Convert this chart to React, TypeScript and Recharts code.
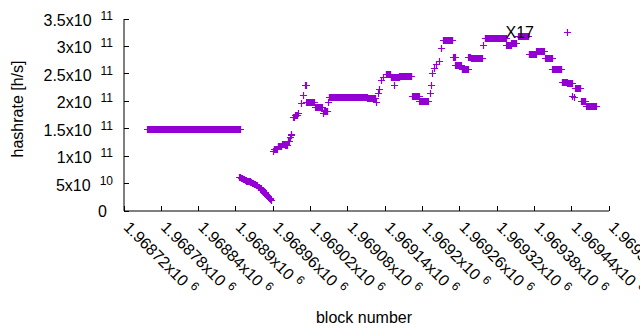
import React from 'react';
import { ScatterChart, Scatter, XAxis, YAxis } from 'recharts';

// x axis: block numbers, one tick every 60 blocks
const xTicks = [
  1968720, 1968780, 1968840, 1968900, 1968960, 1969020, 1969080,
  1969140, 1969200, 1969260, 1969320, 1969380, 1969440, 1969500,
];
const xTickMantissas = [
  '1.96872', '1.96878', '1.96884', '1.9689', '1.96896', '1.96902', '1.96908',
  '1.96914', '1.9692', '1.96926', '1.96932', '1.96938', '1.96944', '1.9695',
];
const xTickExponent = '6';

// y axis: hashrate in h/s
const yTicks = [0, 5e10, 1e11, 1.5e11, 2e11, 2.5e11, 3e11, 3.5e11];
const yTickMantissas = ['0', '5', '1', '1.5', '2', '2.5', '3', '3.5'];
const yTickExponents = ['', '10', '11', '11', '11', '11', '11', '11'];

// runs of consecutive blocks that share the same hashrate estimate
const runFirstBlock = [
  1968757, 1968905, 1968908, 1968911, 1968914, 1968917, 1968920, 1968923, 1968926, 1968929,
  1968932, 1968935, 1968938, 1968941, 1968944, 1968947, 1968950, 1968953, 1968955, 1968957,
  1968960, 1968961, 1968967, 1968974, 1968979, 1968983, 1968987, 1968988, 1968989, 1968992,
  1968995, 1969000, 1969005, 1969008, 1969011, 1969013, 1969027, 1969040, 1969041, 1969048,
  1969049, 1969111, 1969126, 1969128, 1969130, 1969134, 1969137, 1969141, 1969149, 1969154,
  1969163, 1969183, 1969195, 1969212, 1969214, 1969216, 1969219, 1969222, 1969227, 1969230,
  1969233, 1969249, 1969253, 1969263, 1969274, 1969278, 1969297, 1969300, 1969335, 1969343,
  1969354, 1969371, 1969383, 1969397, 1969409, 1969424, 1969432, 1969433, 1969441, 1969443,
  1969446, 1969455, 1969463, 1969471,
];
const runLastBlock = [
  1968907, 1968907, 1968910, 1968913, 1968916, 1968919, 1968922, 1968925, 1968928, 1968931,
  1968934, 1968937, 1968940, 1968943, 1968946, 1968949, 1968952, 1968954, 1968955, 1968957,
  1968960, 1968966, 1968973, 1968978, 1968982, 1968985, 1968987, 1968988, 1968989, 1968993,
  1968999, 1969000, 1969005, 1969008, 1969012, 1969025, 1969038, 1969040, 1969047, 1969048,
  1969110, 1969124, 1969126, 1969128, 1969130, 1969134, 1969137, 1969148, 1969162, 1969154,
  1969182, 1969194, 1969209, 1969212, 1969214, 1969216, 1969219, 1969222, 1969227, 1969230,
  1969248, 1969252, 1969262, 1969273, 1969276, 1969295, 1969297, 1969334, 1969342, 1969351,
  1969370, 1969382, 1969395, 1969408, 1969423, 1969432, 1969432, 1969441, 1969441, 1969443,
  1969454, 1969462, 1969470, 1969479,
];
const runHashrate = [
  1.5e11, 6.2e10, 6.0e10, 5.85e10, 5.7e10, 5.55e10, 5.4e10, 5.25e10, 5.05e10, 4.9e10,
  4.7e10, 4.45e10, 4.15e10, 3.85e10, 3.5e10, 3.15e10, 2.8e10, 2.45e10, 2.2e10, 2.0e10,
  1.1e11, 1.13e11, 1.18e11, 1.23e11, 1.21e11, 1.28e11, 1.34e11, 1.38e11, 1.41e11, 1.72e11,
  1.75e11, 1.79e11, 1.96e11, 2.11e11, 2.3e11, 1.98e11, 1.89e11, 1.78e11, 1.83e11, 1.98e11,
  2.08e11, 2.06e11, 1.98e11, 2.15e11, 2.22e11, 2.39e11, 2.45e11, 2.49e11, 2.44e11, 2.3e11,
  2.46e11, 2.09e11, 2.01e11, 2.15e11, 2.3e11, 2.51e11, 2.61e11, 2.68e11, 2.74e11, 2.98e11,
  3.12e11, 2.8e11, 2.66e11, 2.59e11, 2.8e11, 2.78e11, 3.03e11, 3.16e11, 3.02e11, 3.06e11,
  3.19e11, 2.87e11, 2.91e11, 2.78e11, 2.58e11, 2.36e11, 3.26e11, 2.34e11, 2.1e11, 2.07e11,
  2.25e11, 2.01e11, 1.91e11, 1.92e11,
];

const points: { block: number; hashrate: number }[] = [];
runFirstBlock.forEach((first, i) => {
  for (let b = first; b <= runLastBlock[i]; b++) {
    points.push({ block: b, hashrate: runHashrate[i] });
  }
});

const FONT = '"Liberation Sans", Arial, sans-serif';
const PURPLE = '#9400d3';

const PlusMark = (props: any) => {
  const { cx, cy } = props;
  if (cx == null || cy == null) return null;
  const x = Math.round(cx) + 0.5;
  const y = Math.round(cy) + 0.5;
  return (
    <path
      d={`M${x - 3.5},${y}H${x + 3.5}M${x},${y - 3.5}V${y + 3.5}`}
      stroke={PURPLE}
      strokeWidth={1.2}
      fill="none"
    />
  );
};

const BottomTick = (props: any) => {
  const { x, y, payload } = props;
  const i = xTicks.indexOf(payload.value);
  const ax = x + 3;
  const ay = y + 13;
  return (
    <g>
      <line x1={x} y1={y} x2={x} y2={y - 5} stroke="#000" shapeRendering="crispEdges" />
      <text
        x={0}
        y={6}
        transform={`translate(${ax},${ay}) rotate(45)`}
        fontSize={16}
        fontFamily={FONT}
        fill="#000"
      >
        {xTickMantissas[i]}x10
        <tspan dx={5} dy={-6} fontSize={12}>{xTickExponent}</tspan>
      </text>
    </g>
  );
};

const TopTick = (props: any) => {
  const { x, y } = props;
  return <line x1={x} y1={y} x2={x} y2={y + 5} stroke="#000" shapeRendering="crispEdges" />;
};

const LeftTick = (props: any) => {
  const { x, y, payload } = props;
  const i = yTicks.indexOf(payload.value);
  const exp = yTickExponents[i];
  return (
    <g>
      <line x1={x} y1={y} x2={x + 5} y2={y} stroke="#000" shapeRendering="crispEdges" />
      {exp ? (
        <text x={x - 11} y={y + 7} textAnchor="end" fontSize={16} fontFamily={FONT} fill="#000">
          {yTickMantissas[i]}x10
          <tspan dx={9} dy={-6} fontSize={12}>{exp}</tspan>
        </text>
      ) : (
        <text x={x - 17} y={y + 6} textAnchor="end" fontSize={16} fontFamily={FONT} fill="#000">
          {yTickMantissas[i]}
        </text>
      )}
    </g>
  );
};

const RightTick = (props: any) => {
  const { x, y } = props;
  return <line x1={x} y1={y} x2={x - 5} y2={y} stroke="#000" shapeRendering="crispEdges" />;
};

const xDomain: [number, number] = [1968720, 1969500];
const yDomain: [number, number] = [0, 3.5e11];

export default function App() {
  return (
    <div
      style={{
        position: 'fixed',
        left: 0,
        top: 0,
        width: 640,
        height: 330,
        overflow: 'hidden',
        background: '#fff',
      }}
    >
      <ScatterChart width={640} height={330} margin={{ top: 19, right: 31, bottom: 0, left: 0 }}>
        <XAxis
          xAxisId={0}
          dataKey="block"
          type="number"
          domain={xDomain}
          ticks={xTicks}
          interval={0}
          allowDataOverflow
          height={119}
          tickSize={0}
          tickMargin={0}
          tickLine={false}
          axisLine={{ stroke: '#000' }}
          tick={<BottomTick />}
        />
        <XAxis
          xAxisId="top"
          orientation="top"
          type="number"
          domain={xDomain}
          ticks={xTicks}
          interval={0}
          allowDataOverflow
          height={0}
          tickSize={0}
          tickMargin={0}
          tickLine={false}
          axisLine={{ stroke: '#000' }}
          tick={<TopTick />}
        />
        <YAxis
          yAxisId={0}
          dataKey="hashrate"
          type="number"
          domain={yDomain}
          ticks={yTicks}
          interval={0}
          allowDataOverflow
          width={124}
          tickSize={0}
          tickMargin={0}
          tickLine={false}
          axisLine={{ stroke: '#000' }}
          tick={<LeftTick />}
        />
        <YAxis
          yAxisId="right"
          orientation="right"
          type="number"
          domain={yDomain}
          ticks={yTicks}
          interval={0}
          allowDataOverflow
          width={0}
          tickSize={0}
          tickMargin={0}
          tickLine={false}
          axisLine={{ stroke: '#000' }}
          tick={<RightTick />}
        />
        <Scatter
          data={points}
          xAxisId={0}
          yAxisId={0}
          fill={PURPLE}
          shape={<PlusMark />}
          isAnimationActive={false}
        />
      </ScatterChart>
      <svg
        width={640}
        height={330}
        style={{ position: 'absolute', left: 0, top: 0, pointerEvents: 'none' }}
      >
        <text
          x={0}
          y={0}
          transform="translate(23,109) rotate(-90)"
          textAnchor="middle"
          fontSize={16}
          fontFamily={FONT}
          fill="#000"
        >
          hashrate [h/s]
        </text>
        <text x={364} y={322.5} textAnchor="middle" fontSize={16} fontFamily={FONT} fill="#000">
          block number
        </text>
        <text x={505.5} y={37.7} fontSize={16} fontFamily={FONT} fill="#000">
          X17
        </text>
      </svg>
    </div>
  );
}
